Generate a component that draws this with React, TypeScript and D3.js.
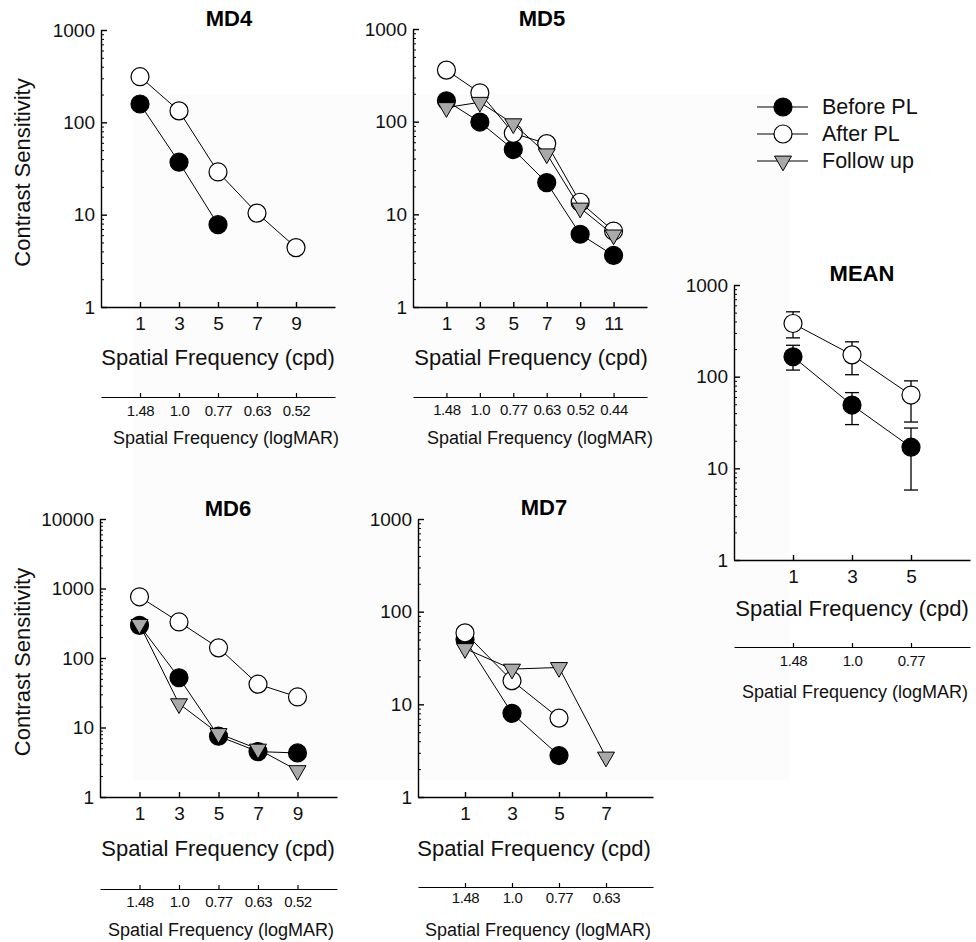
import React, { useEffect, useRef } from 'react';
import * as d3 from 'd3';

// x positions (cpd) and the matching logMAR labels
const cpd = [1, 3, 5, 7, 9, 11];
const logMAR = ['1.48', '1.0', '0.77', '0.63', '0.52', '0.44'];

// MD4
const md4Before = [158, 37, 7.8];
const md4After = [312, 133, 29, 10.4, 4.4];

// MD5
const md5Before = [168, 99, 50, 22, 6.1, 3.6];
const md5After = [360, 205, 75, 58, 13.5, 6.6];
const md5Follow = [142, 162, 95, 45, 11.7, 6.0];

// MD6
const md6Before = [295, 52, 7.5, 4.5, 4.3];
const md6After = [760, 330, 140, 42, 27.5];
const md6Follow = [305, 22, 8.2, 4.9, 2.4];

// MD7
const md7Before = [50, 8, 2.8];
const md7After = [59, 18, 7.1];
const md7Follow = [40, 24, 25, 2.7];

// MEAN with error bars
const meanBefore = [165, 49, 17];
const meanBeforeLo = [118, 30, 5.8];
const meanBeforeHi = [220, 67, 27.5];
const meanAfter = [380, 173, 63];
const meanAfterLo = [265, 105, 32];
const meanAfterHi = [510, 240, 90];

const legendLabels = ['Before PL', 'After PL', 'Follow up'];

const FONT = '"Liberation Sans", Arial, Helvetica, sans-serif';

const panels = [
  { title: 'MD4', x0: 101, x1: 335, y0: 30, y1: 307, xMax: 11, yMax: 1000, n: 5, yLabel: true,
    titleX: 229, titleY: 18, cpdX: 218, cpdY: 357, marY: 397, marLabY: 14, marTitleX: 226, marTitleY: 438,
    before: md4Before, after: md4After, follow: null as number[] | null },
  { title: 'MD5', x0: 413, x1: 647, y0: 29, y1: 307, xMax: 13, yMax: 1000, n: 6, yLabel: false,
    titleX: 542, titleY: 18, cpdX: 531, cpdY: 357, marY: 397, marLabY: 13, marTitleX: 540, marTitleY: 438,
    before: md5Before, after: md5After, follow: md5Follow },
  { title: 'MD6', x0: 100, x1: 337, y0: 519, y1: 797, xMax: 11, yMax: 10000, n: 5, yLabel: true,
    titleX: 228, titleY: 508, cpdX: 218, cpdY: 848, marY: 889, marLabY: 13, marTitleX: 221, marTitleY: 930,
    before: md6Before, after: md6After, follow: md6Follow },
  { title: 'MD7', x0: 418, x1: 653, y0: 519, y1: 797, xMax: 9, yMax: 1000, n: 4, yLabel: false,
    titleX: 544, titleY: 507, cpdX: 534, cpdY: 848, marY: 887, marLabY: 11, marTitleX: 538, marTitleY: 930,
    before: md7Before, after: md7After, follow: md7Follow },
  { title: 'MEAN', x0: 734, x1: 970, y0: 285, y1: 560, xMax: 7, yMax: 1000, n: 3, yLabel: false,
    titleX: 862, titleY: 273, cpdX: 852, cpdY: 608, marY: 647, marLabY: 14, marTitleX: 855, marTitleY: 692,
    before: meanBefore, after: meanAfter, follow: null as number[] | null },
];

const triangle = d3.symbol().type(d3.symbolTriangle).size(125);

function drawMarker(g: any, kind: string, cx: number, cy: number) {
  if (kind === 'follow') {
    g.append('path')
      .attr('d', triangle())
      .attr('transform', `translate(${cx},${cy}) rotate(180)`)
      .attr('fill', '#a9a9a9')
      .attr('stroke', '#000')
      .attr('stroke-width', 1);
  } else {
    g.append('circle')
      .attr('cx', cx)
      .attr('cy', cy)
      .attr('r', 9)
      .attr('fill', kind === 'before' ? '#000' : '#fff')
      .attr('stroke', '#000')
      .attr('stroke-width', 1.2);
  }
}

export default function App() {
  const ref = useRef<SVGSVGElement>(null);

  useEffect(() => {
    document.body.style.margin = '0';
    const svg = d3.select(ref.current);
    svg.selectAll('*').remove();

    // faint page tint behind the plots
    svg.append('rect')
      .attr('x', 133).attr('y', 95)
      .attr('width', 657).attr('height', 685)
      .attr('fill', '#fcfcfc');

    panels.forEach(p => {
      const g = svg.append('g');
      const x = d3.scaleLinear().domain([-1, p.xMax]).range([p.x0, p.x1]);
      const y = d3.scaleLog().domain([1, p.yMax]).range([p.y1, p.y0]);
      const xs = cpd.slice(0, p.n);

      const decades = y.ticks().filter(v => Math.abs(Math.log10(v) % 1) < 1e-9);
      const minor = y.ticks().filter(v => Math.abs(Math.log10(v) % 1) > 1e-9);

      // minor y ticks
      g.append('g')
        .attr('transform', `translate(${p.x0},0)`)
        .call(d3.axisLeft(y).tickValues(minor).tickFormat(() => '').tickSizeInner(-3).tickSizeOuter(0))
        .call(a => a.select('.domain').remove())
        .selectAll('line').attr('stroke-width', 1);

      // major y axis
      const ya = g.append('g')
        .attr('transform', `translate(${p.x0},0)`)
        .call(d3.axisLeft(y).tickValues(decades).tickFormat(d3.format('d')).tickSizeInner(-6).tickSizeOuter(0).tickPadding(6));
      ya.attr('font-size', 19).attr('font-family', FONT);
      ya.selectAll('path,line').attr('stroke-width', 1.4);
      ya.selectAll('text').attr('fill', '#111');

      // cpd x axis
      const xa = g.append('g')
        .attr('transform', `translate(0,${p.y1})`)
        .call(d3.axisBottom(x).tickValues(xs).tickFormat(d3.format('d')).tickSizeInner(-5).tickSizeOuter(0).tickPadding(10));
      xa.attr('font-size', 19).attr('font-family', FONT);
      xa.selectAll('path,line').attr('stroke-width', 1.4);
      xa.selectAll('text').attr('fill', '#111');

      // logMAR axis
      const ma = g.append('g')
        .attr('transform', `translate(0,${p.marY})`)
        .call(d3.axisBottom(x).tickValues(xs).tickFormat((d, i) => logMAR[i]).tickSizeInner(-4).tickSizeOuter(0).tickPadding(p.marLabY - 6));
      ma.attr('font-size', 15).attr('font-family', FONT);
      ma.selectAll('path,line').attr('stroke-width', 1.2);
      ma.selectAll('text').attr('fill', '#111').style('letter-spacing', '-0.4px');

      // titles
      g.append('text')
        .attr('x', p.titleX).attr('y', p.titleY)
        .attr('text-anchor', 'middle').attr('dominant-baseline', 'central')
        .style('font-family', FONT).style('font-size', '22px').style('font-weight', 'bold')
        .text(p.title);

      g.append('text')
        .attr('x', p.cpdX).attr('y', p.cpdY)
        .attr('text-anchor', 'middle').attr('dominant-baseline', 'central')
        .style('font-family', FONT).style('font-size', '22px').attr('fill', '#111')
        .text('Spatial Frequency (cpd)');

      g.append('text')
        .attr('x', p.marTitleX).attr('y', p.marTitleY)
        .attr('text-anchor', 'middle').attr('dominant-baseline', 'central')
        .style('font-family', FONT).style('font-size', '18px').attr('fill', '#111')
        .text('Spatial Frequency (logMAR)');

      if (p.yLabel) {
        g.append('text')
          .attr('transform', `translate(22,${(p.y0 + p.y1) / 2 + 4}) rotate(-90)`)
          .attr('text-anchor', 'middle').attr('dominant-baseline', 'central')
          .style('font-family', FONT).style('font-size', '22px').attr('fill', '#111')
          .text('Contrast Sensitivity');
      }

      // error bars for MEAN
      if (p.title === 'MEAN') {
        const bars = [
          { v: meanBefore, lo: meanBeforeLo, hi: meanBeforeHi },
          { v: meanAfter, lo: meanAfterLo, hi: meanAfterHi },
        ];
        bars.forEach(b => {
          b.v.forEach((_, i) => {
            const cx = x(cpd[i]);
            g.append('line')
              .attr('x1', cx).attr('x2', cx)
              .attr('y1', y(b.lo[i])).attr('y2', y(b.hi[i]))
              .attr('stroke', '#000').attr('stroke-width', 1.3);
            [b.lo[i], b.hi[i]].forEach(e => {
              g.append('line')
                .attr('x1', cx - 7).attr('x2', cx + 7)
                .attr('y1', y(e)).attr('y2', y(e))
                .attr('stroke', '#000').attr('stroke-width', 1.3);
            });
          });
        });
      }

      // series: before, after, follow up
      const series = [
        { kind: 'before', vals: p.before },
        { kind: 'after', vals: p.after },
        { kind: 'follow', vals: p.follow },
      ];
      const line = d3.line<number>().x((d, i) => x(cpd[i])).y(d => y(d));
      series.forEach(s => {
        if (!s.vals) return;
        g.append('path')
          .attr('d', line(s.vals))
          .attr('fill', 'none')
          .attr('stroke', '#000')
          .attr('stroke-width', 1);
        s.vals.forEach((v, i) => drawMarker(g, s.kind, x(cpd[i]), y(v)));
      });
    });

    // legend
    const lg = svg.append('g');
    ['before', 'after', 'follow'].forEach((k, i) => {
      const ly = 107 + i * 27;
      lg.append('line')
        .attr('x1', 757).attr('x2', 808)
        .attr('y1', ly).attr('y2', ly)
        .attr('stroke', '#000').attr('stroke-width', 1);
      drawMarker(lg, k, 783, ly);
      lg.append('text')
        .attr('x', 822).attr('y', ly)
        .attr('dominant-baseline', 'central')
        .style('font-family', FONT).style('font-size', '21.5px').attr('fill', '#111')
        .text(legendLabels[i]);
    });
  }, []);

  return (
    <div style={{ width: 976, height: 942 }}>
      <svg ref={ref} width={976} height={942} style={{ display: 'block', background: '#fff' }} />
    </div>
  );
}
